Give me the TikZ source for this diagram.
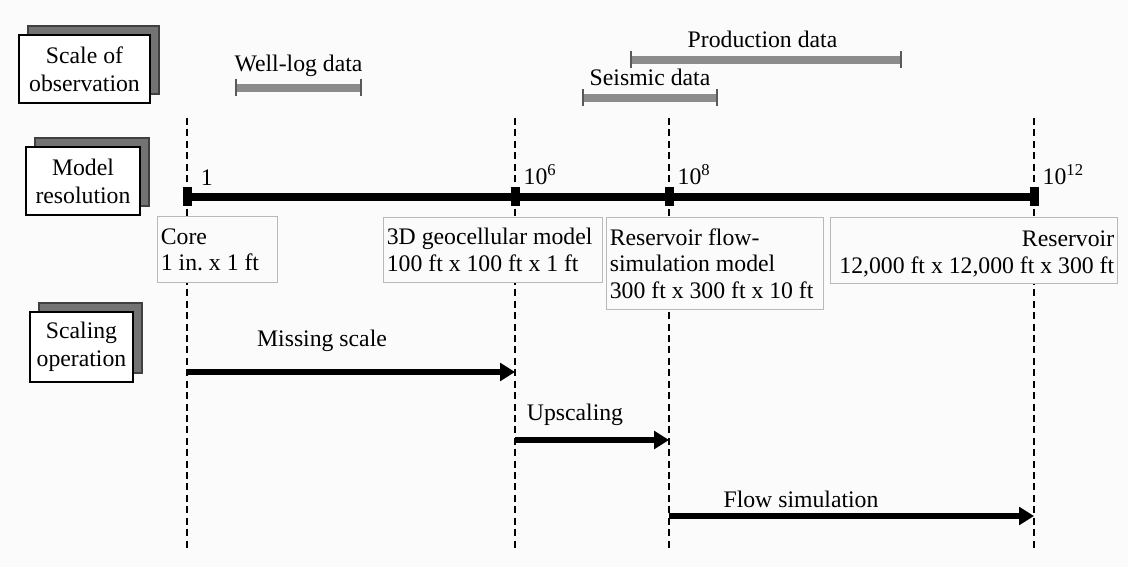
\documentclass[tikz,border=0pt]{standalone}
\usepackage{fontspec}
\setmainfont{Liberation Serif}
\usetikzlibrary{positioning,arrows.meta,shadows}
\colorlet{paper}{gray!3}
\tikzset{
  x=0.02cm, y=-0.02cm,
  every node/.style={font=\fontsize{13.5}{15}\selectfont\frenchspacing},
  headbox/.style={draw=black, line width=1.2pt, fill=white, align=center,
    inner sep=0pt, font=\fontsize{13.5}{16}\selectfont,
    drop shadow={shadow xshift=0.18cm, shadow yshift=0.18cm,
      fill=black!55, draw=black!75, opacity=1}},
  infobox/.style={draw=gray!55, line width=0.6pt, fill=paper, anchor=north west,
    inner sep=0pt},
  boxtext/.style={anchor=west, align=left, inner sep=2pt},
  guide/.style={line width=0.9pt, dash pattern=on 4pt off 2.5pt},
  marker/.style={fill=black, minimum width=0.18cm, minimum height=0.38cm, inner sep=0pt},
  resbar/.style={line width=4.5pt},
  reslabel/.style={anchor=south west, inner sep=1pt, xshift=1pt},
  databar/.style={line width=4.5pt, draw=black!45,
    {Bar[width=0.34cm, line width=0.9pt, color=black!65]}-{Bar[width=0.34cm, line width=0.9pt, color=black!65]}},
  datalabel/.style={midway, above=3.5pt, inner sep=1pt, text=black},
  scalearrow/.style={line width=3pt, -{Triangle[length=8.5pt, width=10pt]}},
}

\begin{document}
\begin{tikzpicture}
  \useasboundingbox (0,0) rectangle (1128,567);
  \fill[paper] (0,0) rectangle (1128,567);
  % vertical guides
  \foreach \n/\x in {1/187,2/515,3/669,4/1034}{
    \coordinate (t\n) at (\x,118);
    \coordinate (b\n) at (\x,548);
    \draw[guide] (t\n) -- (b\n);
  }
  % model resolution axis
  \coordinate (axis) at (0,197);
  \foreach \n in {1,...,4}
    \node[marker] (m\n) at (t\n |- axis) {};
  \draw[resbar] (m1.center) -- (m4.center);
  \node[reslabel, xshift=3pt] (r1) at (m1.north east) {1};
  \node[reslabel] (r2) at (m2.north east) {10\textsuperscript{6}};
  \node[reslabel] (r3) at (m3.north east) {10\textsuperscript{8}};
  \node[reslabel] (r4) at (m4.north east) {10\textsuperscript{12}};
  % scale of observation
  \coordinate (wl1) at (235,88);  \coordinate (wl2) at (362,88);
  \coordinate (sd1) at (582,98);  \coordinate (sd2) at (718,98);
  \coordinate (pd1) at (630,60);  \coordinate (pd2) at (902,60);
  \draw[databar] (wl1) -- (wl2) node[datalabel]{Well-log data};
  \draw[databar] (sd1) -- (sd2) node[datalabel]{Seismic data};
  \draw[databar] (pd1) -- (pd2) node[datalabel, xshift=-2pt]{Production data};
  % models
  \node[infobox, minimum width=2.40cm, minimum height=1.32cm] (core) at (157,216) {};
  \node[infobox, minimum width=4.38cm, minimum height=1.30cm] (geo) at (383,217) {};
  \node[infobox, minimum width=4.34cm, minimum height=1.84cm] (sim) at (606,217) {};
  \node[infobox, minimum width=5.74cm, minimum height=1.32cm] (res) at (830,217) {};
  \node[boxtext] (coret) at (core.west) {Core\\1 in. x 1 ft};
  \node[boxtext] (geot) at (geo.west) {3D geocellular model\\100 ft x 100 ft x 1 ft};
  \node[boxtext] (simt) at (sim.west)
    {Reservoir flow-\\simulation model\\300 ft x 300 ft x 10 ft};
  \node[boxtext, anchor=east, align=right, yshift=-2pt] (rest) at (res.east)
    {Reservoir\\12,000 ft x 12,000 ft x 300 ft};
  % row headers
  \node[headbox, minimum width=2.62cm, minimum height=1.36cm] (obs)
    at (84.5,69) {Scale of\\observation};
  \node[headbox, minimum width=2.28cm, minimum height=1.36cm] (mod)
    at (83,181) {Model\\resolution};
  \node[headbox, minimum width=2.06cm, minimum height=1.40cm] (ops)
    at (81.5,347) {Scaling\\operation};
  % scaling operations
  \coordinate (ms) at (0,372);
  \coordinate (up) at (0,440);
  \coordinate (fs) at (0,516);
  \draw[scalearrow] (t1 |- ms) -- (t2 |- ms);
  \draw[scalearrow] (t2 |- up) -- (t3 |- up);
  \draw[scalearrow] (t3 |- fs) -- (t4 |- fs);
  \node (msl) at (322,341) {Missing scale};
  \node (upl) at (575,415) {Upscaling};
  \node (fsl) at (801,499) {Flow simulation};
\end{tikzpicture}
\end{document}
